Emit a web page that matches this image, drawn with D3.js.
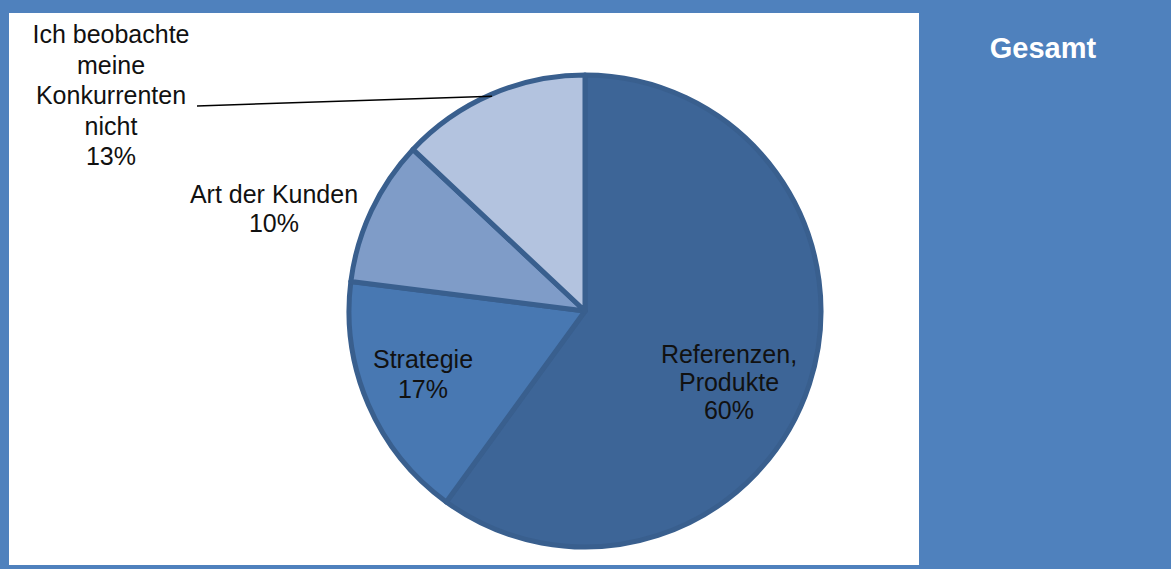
<!DOCTYPE html>
<html>
<head>
<meta charset="utf-8">
<script src="https://cdn.jsdelivr.net/npm/d3@7"></script>
<style>
  html, body { margin: 0; padding: 0; background: #4F81BD; }
  svg { display: block; }
  text { font-family: "Liberation Sans", Arial, sans-serif; }
</style>
</head>
<body>
<svg id="chart" width="1171" height="569"></svg>
<script>
// ---- data ----
const categories = ["Referenzen, Produkte", "Strategie", "Art der Kunden", "Ich beobachte meine Konkurrenten nicht"];
const values = [60, 17, 10, 13];
const labelLines = [
  ["Referenzen,", "Produkte", "60%"],
  ["Strategie", "17%"],
  ["Art der Kunden", "10%"],
  ["Ich beobachte", "meine", "Konkurrenten", "nicht", "13%"]
];
const colors = ["#3d6597", "#4878b2", "#7f9cc8", "#b3c3df"];
const title = "Gesamt";

// ---- layout ----
const W = 1171, H = 569;
const svg = d3.select("#chart");

svg.append("rect").attr("x", 0).attr("y", 0).attr("width", W).attr("height", H).attr("fill", "#4F81BD");
const plot = { x: 9, y: 13, w: 910, h: 552 };
svg.append("rect").attr("x", plot.x).attr("y", plot.y).attr("width", plot.w).attr("height", plot.h).attr("fill", "#ffffff");

const cx = 585, cy = 311, r = 236;
const pie = d3.pie().sort(null).value(d => d)(values);
const arc = d3.arc().innerRadius(0).outerRadius(r);
const edgeArc = d3.arc().innerRadius(r - 2).outerRadius(r - 2);

const g = svg.append("g").attr("transform", `translate(${cx},${cy})`);
g.selectAll("path.slice").data(pie).enter().append("path")
  .attr("class", "slice")
  .attr("d", arc)
  .attr("fill", (d, i) => colors[i])
  .attr("stroke", "#395f8e")
  .attr("stroke-width", 5)
  .attr("stroke-linejoin", "round");

// label anchor positions (text centre, first baseline) and line spacing
const labelPos = [[729, 363, 28], [423, 368, 30], [274, 203, 29], [111, 43, 30.5]];
const lbl = svg.append("g").attr("font-size", 25).attr("fill", "#111").attr("text-anchor", "middle");
labelLines.forEach((lines, i) => {
  const [x, y, dy] = labelPos[i];
  const t = lbl.append("text").attr("x", x).attr("y", y);
  lines.forEach((s, k) => {
    t.append("tspan").attr("x", x).attr("y", y + k * dy).text(s);
  });
});

// leader line for the last category
const c = edgeArc.centroid(pie[3]);
svg.append("line")
  .attr("x1", 197).attr("y1", 106)
  .attr("x2", cx + c[0]).attr("y2", cy + c[1])
  .attr("stroke", "#000").attr("stroke-width", 1.5);

// title in right panel
svg.append("text")
  .attr("x", 1043).attr("y", 58)
  .attr("text-anchor", "middle")
  .attr("font-size", 29).attr("font-weight", "bold")
  .attr("fill", "#ffffff")
  .text(title);
</script>
</body>
</html>
